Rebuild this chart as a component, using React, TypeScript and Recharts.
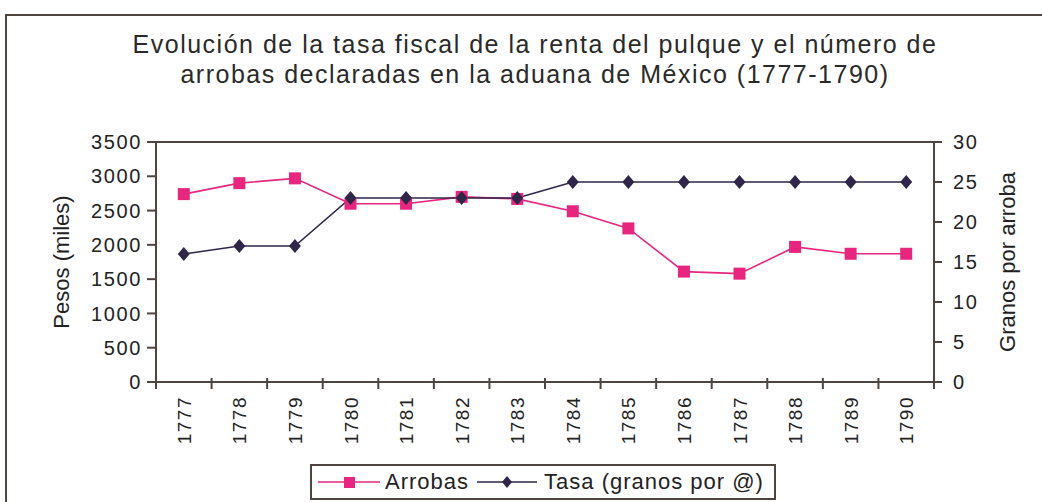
import { LineChart, Line, XAxis, YAxis, CartesianGrid } from "recharts"

const years = [1777, 1778, 1779, 1780, 1781, 1782, 1783, 1784, 1785, 1786, 1787, 1788, 1789, 1790]
const arrobas = [2740, 2900, 2970, 2600, 2600, 2700, 2670, 2490, 2240, 1610, 1580, 1970, 1870, 1870]
const tasa = [16, 17, 17, 23, 23, 23, 23, 25, 25, 25, 25, 25, 25, 25]
const leftTicks = [0, 500, 1000, 1500, 2000, 2500, 3000, 3500]
const rightTicks = [0, 5, 10, 15, 20, 25, 30]

const PINK = "#e6267f"
const NAVY = "#2f2648"
const INK = "#4f4540"
const FONT = "'Liberation Sans', Arial, sans-serif"

const data = years.map((year, i) => ({ year, arrobas: arrobas[i], tasa: tasa[i] }))
// tick marks between categories + year labels at category centres
const xTicks = [...years.map((y) => y - 0.5), years[years.length - 1] + 0.5, ...years]

const YearTick = (props: any) => {
  const { x, y, payload } = props
  const v = payload.value
  if (!Number.isInteger(v)) {
    return <line x1={x} x2={x} y1={y - 4} y2={y + 7} stroke={INK} strokeWidth={2} />
  }
  return (
    <text
      transform={`translate(${x + 7},${y + 14}) rotate(-90)`}
      textAnchor="end"
      fontFamily={FONT}
      fontSize={19}
      letterSpacing={1.5}
      fill="#222"
    >
      {v}
    </text>
  )
}

const Square = (props: any) => {
  const { cx, cy, index } = props
  return <rect key={`sq-${index}`} x={cx - 6} y={cy - 6} width={12} height={12} fill={PINK} />
}

const Diamond = (props: any) => {
  const { cx, cy, index } = props
  return (
    <polygon
      key={`dm-${index}`}
      points={`${cx},${cy - 7} ${cx + 6},${cy} ${cx},${cy + 7} ${cx - 6},${cy}`}
      fill={NAVY}
    />
  )
}

export default function App() {
  return (
    <div
      style={{
        position: "absolute",
        left: 0,
        top: 0,
        width: 1042,
        height: 502,
        overflow: "hidden",
        background: "#fff",
        fontFamily: FONT,
      }}
    >
      <div
        style={{
          position: "absolute",
          left: 0,
          width: 1042,
          top: -21,
          textAlign: "center",
          fontSize: 24,
          lineHeight: "24px",
          fontWeight: "bold",
          color: "#555",
        }}
      >
        Gráfica 1
      </div>
      <div
        style={{
          position: "absolute",
          left: 5,
          top: 14,
          width: 1100,
          height: 600,
          border: `2px solid ${INK}`,
        }}
      />
      <div
        style={{
          position: "absolute",
          left: 0,
          width: 1070,
          top: 29,
          textAlign: "center",
          fontSize: 25,
          letterSpacing: 1.5,
          lineHeight: "30px",
          color: "#2a2a2a",
        }}
      >
        Evolución de la tasa fiscal de la renta del pulque y el número de
        <br />
        arrobas declaradas en la aduana de México (1777-1790)
      </div>

      <div style={{ position: "absolute", left: 0, top: 0 }}>
        <LineChart width={1042} height={502} data={data} margin={{ top: 142, right: 48, bottom: 50, left: 96 }}>
          <CartesianGrid vertical={false} stroke={INK} strokeWidth={2} />
          <XAxis
            dataKey="year"
            type="number"
            domain={[1776.5, 1790.5]}
            ticks={xTicks}
            interval={0}
            tickLine={false}
            tickSize={0}
            tickMargin={0}
            tick={<YearTick />}
            axisLine={{ stroke: INK, strokeWidth: 2 }}
            height={70}
          />
          <YAxis
            yAxisId="left"
            domain={[0, 3500]}
            ticks={leftTicks}
            width={60}
            tickSize={9}
            tickMargin={5}
            tickLine={{ stroke: INK, strokeWidth: 2 }}
            axisLine={{ stroke: INK, strokeWidth: 2 }}
            tick={{ fill: "#222", fontSize: 20, fontFamily: FONT, letterSpacing: 1.6 }}
            label={{
              value: "Pesos (miles)",
              angle: -90,
              position: "insideLeft",
              dx: -40,
              style: { textAnchor: "middle", fontSize: 22, fill: "#222", fontFamily: FONT },
            }}
          />
          <YAxis
            yAxisId="right"
            orientation="right"
            domain={[0, 30]}
            ticks={rightTicks}
            width={60}
            tickSize={8}
            tickMargin={11}
            tickLine={{ stroke: INK, strokeWidth: 2 }}
            axisLine={{ stroke: INK, strokeWidth: 2 }}
            tick={{ fill: "#222", fontSize: 20, fontFamily: FONT, textAnchor: "start", letterSpacing: 1.6 }}
            label={{
              value: "Granos por arroba",
              angle: -90,
              position: "insideRight",
              dx: 18,
              style: { textAnchor: "middle", fontSize: 22, fill: "#222", fontFamily: FONT },
            }}
          />
          <Line
            yAxisId="left"
            dataKey="arrobas"
            stroke={PINK}
            strokeWidth={1.6}
            dot={<Square />}
            isAnimationActive={false}
          />
          <Line
            yAxisId="right"
            dataKey="tasa"
            stroke={NAVY}
            strokeWidth={1.6}
            dot={<Diamond />}
            isAnimationActive={false}
          />
        </LineChart>
      </div>

      <div
        style={{
          position: "absolute",
          left: 310,
          top: 464,
          width: 466,
          height: 36,
          border: `2px solid ${INK}`,
          background: "#fff",
          display: "flex",
          alignItems: "center",
          fontSize: 22,
          letterSpacing: 1,
          color: "#222",
          boxSizing: "border-box",
          paddingLeft: 6,
        }}
      >
        <svg width={62} height={20}>
          <line x1={0} x2={62} y1={10} y2={10} stroke={PINK} strokeWidth={1.6} />
          <rect x={26} y={5} width={11} height={11} fill={PINK} />
        </svg>
        <span style={{ marginLeft: 5 }}>Arrobas</span>
        <svg width={60} height={20} style={{ marginLeft: 8 }}>
          <line x1={0} x2={60} y1={10} y2={10} stroke={NAVY} strokeWidth={1.6} />
          <polygon points="30,4 35,10 30,16 25,10" fill={NAVY} />
        </svg>
        <span style={{ marginLeft: 7 }}>Tasa (granos por @)</span>
      </div>
    </div>
  )
}
